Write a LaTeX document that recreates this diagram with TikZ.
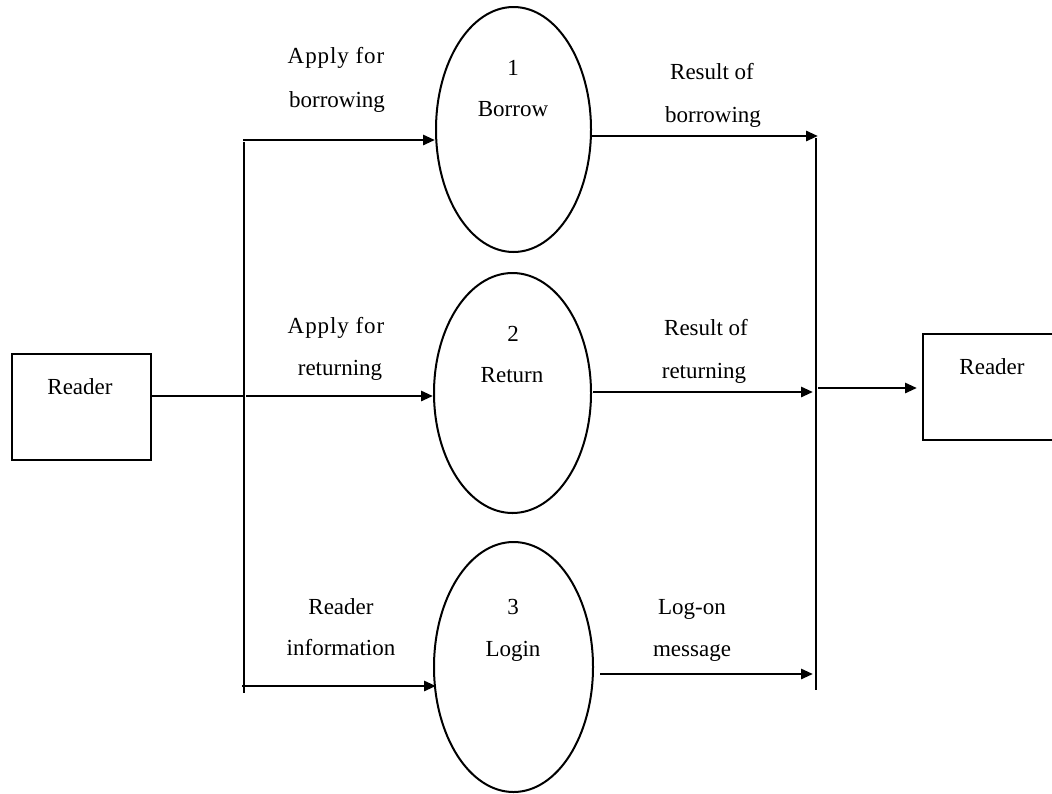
\documentclass[tikz,border=0pt]{standalone}
\usepackage{fontspec}
\setmainfont{Liberation Serif}
\usetikzlibrary{shapes.geometric,arrows.meta}

\begin{document}
\begin{tikzpicture}[x=1pt,y=-1pt,
  txt/.style={font=\fontsize{23}{27}\selectfont, anchor=base, inner sep=0pt},
  spaced/.style={font=\fontsize{23}{27}\selectfont\addfontfeature{LetterSpace=4}},
  entity/.style={draw, line width=2pt, minimum width=139pt, minimum height=106pt, inner sep=0pt},
  proc/.style={draw, ellipse, line width=2pt, inner sep=0pt},
  bus/.style={line width=2.2pt},
  flow/.style={line width=2.8pt, -{Triangle[length=12pt,width=10pt]}}
]
\useasboundingbox (0,0) rectangle (1052,793);

% external entities
\node[entity] (readerIn)  at (81.5,407) {};
\node[entity] (readerOut) at (992.5,387) {};
\node[txt] (readerInT)  at (80,394) {Reader};
\node[txt] (readerOutT) at (992,374) {Reader};

% processes
\node[proc, minimum width=155pt, minimum height=245pt] (p1) at (513.5,129.5) {};
\node[proc, minimum width=157pt, minimum height=240pt] (p2) at (512.5,393) {};
\node[proc, minimum width=159pt, minimum height=250pt] (p3) at (513.5,667) {};

\node[txt] (p1n) at (513,75)  {1};
\node[txt] (p1t) at (513,116) {Borrow};
\node[txt] (p2n) at (513,341) {2};
\node[txt] (p2t) at (512,382) {Return};
\node[txt] (p3n) at (513,614) {3};
\node[txt] (p3t) at (513,656) {Login};

% distribution lines
\coordinate (busLtop) at (244,142);
\coordinate (busLbot) at (244,693);
\coordinate (busRtop) at (816,138);
\coordinate (busRbot) at (816,690);
\draw[bus] (busLtop) -- (busLbot);
\draw[bus] (busRtop) -- (busRbot);

% incoming flows
\coordinate (in1) at (243,140);
\coordinate (in2) at (246,396);
\coordinate (in3) at (242,686);
\draw[bus] (readerIn.east |- in2) -- (busLtop |- in2);
\draw[flow] (in1) -- (in1 -| p1.west);
\draw[flow] (in2) -- (in2 -| p2.west);
\draw[flow] (in3) -- ([xshift=3pt]in3 -| p3.west);

% outgoing flows
\coordinate (out1) at (591,136);
\coordinate (out2) at (593,392);
\coordinate (out3) at (600,674);
\coordinate (out4) at (818,388);
\draw[flow] (out1) -- ([xshift=2pt]out1 -| busRtop);
\draw[flow] (out2) -- ([xshift=-3pt]out2 -| busRtop);
\draw[flow] (out3) -- ([xshift=-3pt]out3 -| busRtop);
\draw[flow] (out4) -- ([xshift=-5pt]out4 -| readerOut.west);

% flow labels
\node[txt, spaced] (l1a) at (336,63)  {Apply for};
\node[txt] (l1b) at (337,107) {borrowing};
\node[txt] (r1a) at (712,79)  {Result of};
\node[txt] (r1b) at (713,122) {borrowing};
\node[txt, spaced] (l2a) at (336,333) {Apply for};
\node[txt] (l2b) at (340,375) {returning};
\node[txt] (r2a) at (706,335) {Result of};
\node[txt] (r2b) at (704,378) {returning};
\node[txt] (l3a) at (341,614) {Reader};
\node[txt] (l3b) at (341,655) {information};
\node[txt] (r3a) at (692,614) {Log-on};
\node[txt] (r3b) at (692,656) {message};
\end{tikzpicture}
\end{document}
